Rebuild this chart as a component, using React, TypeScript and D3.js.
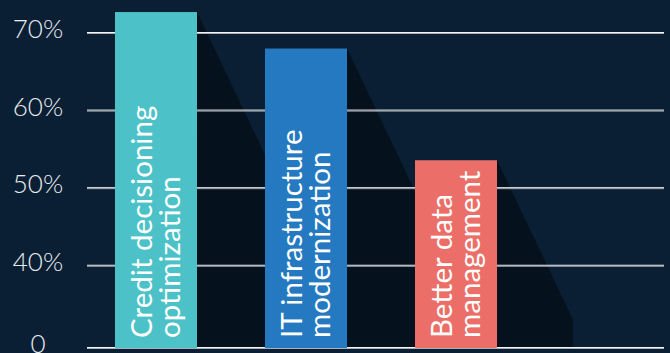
import React from "react";
import * as d3 from "d3";

const categories = ["Credit decisioning optimization", "IT infrastructure modernization", "Better data management"];
const labelLines = [
  ["Credit decisioning", "optimization"],
  ["IT infrastructure", "modernization"],
  ["Better data", "management"],
];
const values = [72.7, 68, 53.6];
const barColors = ["#4cc2c8", "#2479c0", "#eb6f68"];
const tickValues = [29.4, 40, 50, 60, 70];
const tickLabels = ["0", "40%", "50%", "60%", "70%"];

const W = 670;
const H = 353;

export default function App() {
  const x = d3
    .scaleBand<string>()
    .domain(categories)
    .range([115, 497])
    .paddingInner(0.4533)
    .paddingOuter(0);
  const y = d3.scaleLinear().domain([29.4, 70]).range([348, 33]);
  const bw = x.bandwidth();
  const slope = 2.1;
  const shadowW = 76;
  const base = y(29.4);

  return (
    <svg
      width={W}
      height={H}
      style={{ position: "fixed", left: 0, top: 0, display: "block" }}
      fontFamily="Lato, sans-serif"
    >
      <rect x={0} y={0} width={W} height={H} fill="#0a1f34" />
      {/* shadows */}
      {categories.map((c, i) => {
        const x1 = (x(c) as number) + bw;
        const top = y(values[i]);
        const xEnd = x1 + shadowW;
        const yEnd = Math.min(base, top + shadowW * slope);
        const pts = [
          [x1, top],
          [xEnd, yEnd],
          [xEnd, base],
          [x1, base],
        ];
        return <polygon key={"s" + i} points={pts.map((p) => p.join(",")).join(" ")} fill="#05111d" />;
      })}
      {/* gridlines */}
      {tickValues.map((t, i) => (
        <g key={"g" + i}>
          <line x1={87} x2={664} y1={y(t) - 0.5} y2={y(t) - 0.5} stroke="#f2f4f6" strokeWidth={1} />
          <line x1={87} x2={664} y1={y(t) + 0.5} y2={y(t) + 0.5} stroke="#a9b0b8" strokeWidth={1} />
        </g>
      ))}
      {/* tick labels */}
      {tickValues.map((t, i) => (
        <text
          key={"t" + i}
          x={38}
          y={y(t) + 5}
          textAnchor="middle"
          fill="#e8ecef"
          fontSize={26}
          fontWeight={300}
        >
          {tickLabels[i]}
        </text>
      ))}
      {/* bars */}
      {categories.map((c, i) => (
        <rect
          key={"b" + i}
          x={x(c)}
          y={y(values[i])}
          width={bw}
          height={base - y(values[i])}
          fill={barColors[i]}
        />
      ))}
      {/* labels */}
      {categories.map((c, i) => (
        <text
          key={"l" + i}
          transform={`translate(${x(c)},338) rotate(-90)`}
          textAnchor="start"
          fill="#ffffff"
          fontSize={29.5}
        >
          <tspan x={0} y={37}>
            {labelLines[i][0]}
          </tspan>
          <tspan x={0} y={65}>
            {labelLines[i][1]}
          </tspan>
        </text>
      ))}
    </svg>
  );
}
